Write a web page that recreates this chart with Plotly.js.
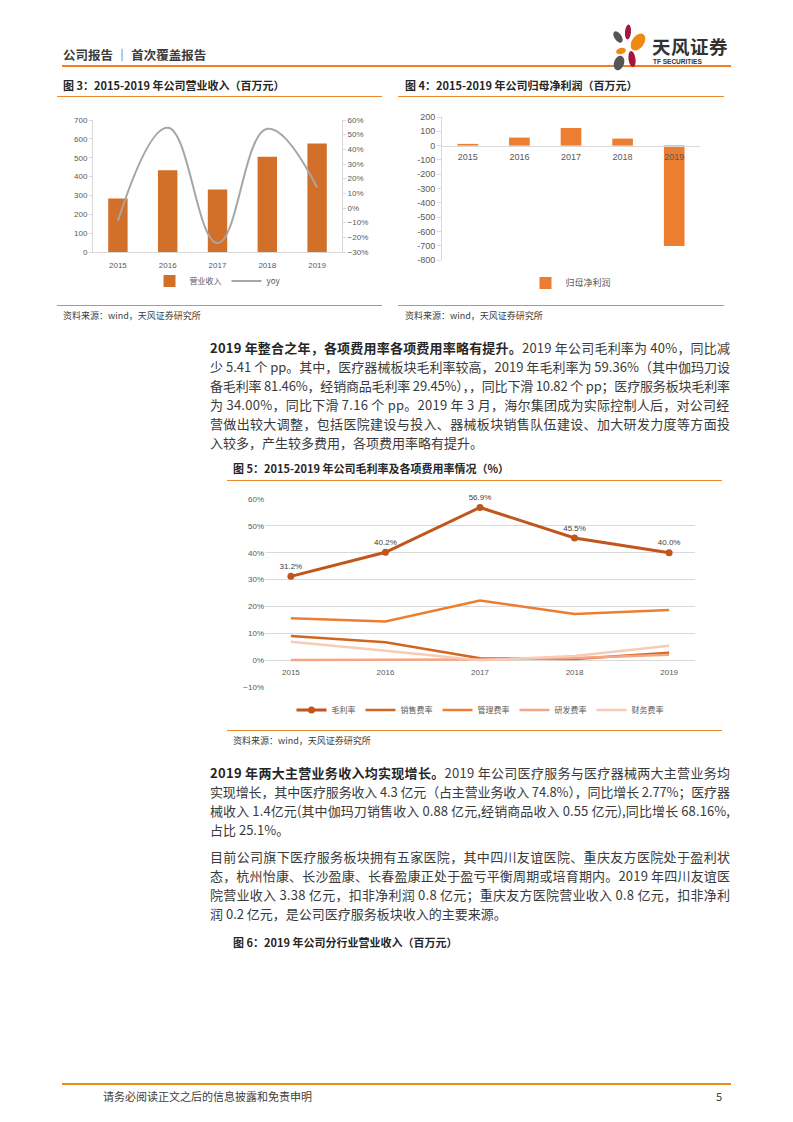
<!DOCTYPE html>
<html>
<head>
<meta charset="utf-8">
<script src="https://cdn.plot.ly/plotly-3.0.1.min.js"></script>
<style>
  html, body { margin:0; padding:0; background:#fff; }
  body { width:793px; height:1122px; position:relative; overflow:hidden;
         font-family:"Noto Sans CJK SC","Noto Sans",sans-serif; color:#404040; }
  .abs { position:absolute; }
  .hline { position:absolute; height:0; }
  .ln { position:absolute; left:210px; width:520px; font-size:13px; line-height:19px;
        white-space:nowrap; color:#3a3a3a; }
  .ln b { color:#262626; }
  .ftitle { position:absolute; font-size:11px; font-weight:bold; color:#262626; line-height:14px; white-space:nowrap; }
  .src { position:absolute; font-size:9px; color:#404040; line-height:12px; white-space:nowrap; }
</style>
</head>
<body>
<script>
// ---------- data ----------
const years = ['2015', '2016', '2017', '2018', '2019'];
const revenue = [284, 434, 331, 505, 576];          // 营业收入（百万元）
const revenueYoy = [-8.8, 54.7, -23.9, 54.0, 14.0];  // yoy (%)
const netProfit = [12, 56, 123, 49, -702];           // 归母净利润（百万元）
const grossMargin = [31.2, 40.2, 56.9, 45.5, 40.0];  // 毛利率 (%)
const salesRate = [9.0, 6.6, 0.7, 0.4, 2.7];         // 销售费率 (%)
const adminRate = [15.6, 14.4, 22.2, 17.2, 18.7];    // 管理费率 (%)
const rdRate = [0.0, 0.0, 0.2, 0.8, 2.0];            // 研发费率 (%)
const finRate = [6.8, 3.5, -0.1, 1.5, 5.3];          // 财务费率 (%)
const profitTicks = [200, 100, 0, -100, -200, -300, -400, -500, -600, -700, -800];
</script>

<!-- header -->
<div class="abs" style="left:63px;top:46px;font-size:12.5px;font-weight:bold;color:#3c3c3c;line-height:18px;">公司报告 ｜ 首次覆盖报告</div>
<div class="hline" style="left:62px;top:65px;width:669px;border-top:2px solid #EE7F22;"></div>
<svg class="abs" style="left:606px;top:20px;" width="48" height="52" viewBox="0 0 48 52">
  <ellipse cx="12" cy="17" rx="3.5" ry="6.5" fill="#555555" transform="rotate(-35 12 17)"/>
  <ellipse cx="22" cy="12" rx="3" ry="7.5" fill="#A3183A" transform="rotate(5 22 12)"/>
  <ellipse cx="32" cy="22" rx="6" ry="9.5" fill="#EE8A12" transform="rotate(35 32 22)"/>
  <ellipse cx="15" cy="31" rx="5" ry="3" fill="#EE8A12" transform="rotate(-15 15 31)"/>
  <ellipse cx="26" cy="39" rx="3.5" ry="8" fill="#A3183A" transform="rotate(-8 26 39)"/>
  <ellipse cx="13" cy="43" rx="5" ry="7.5" fill="#555555" transform="rotate(20 13 43)"/>
</svg>
<div class="abs" style="left:652px;top:35px;font-size:18.5px;font-weight:bold;color:#333;line-height:22px;letter-spacing:0.5px;">天风证券</div>
<div class="abs" style="left:653px;top:58px;font-size:6.5px;font-weight:bold;color:#333;line-height:8px;font-family:'Liberation Sans',sans-serif;">TF SECURITIES</div>

<!-- figure 3 / 4 titles -->
<div class="ftitle" style="left:63px;top:78px;">图 3：2015-2019 年公司营业收入（百万元）</div>
<div class="hline" style="left:57px;top:96px;width:325px;border-top:1.5px solid #EE8A2E;"></div>
<div class="ftitle" style="left:405px;top:78px;">图 4：2015-2019 年公司归母净利润（百万元）</div>
<div class="hline" style="left:398px;top:96px;width:326px;border-top:1.5px solid #EE8A2E;"></div>

<div id="chart1" class="abs" style="left:50px;top:100px;width:340px;height:220px;"></div>
<div id="chart2" class="abs" style="left:395px;top:100px;width:340px;height:220px;"></div>

<div class="hline" style="left:57px;top:305px;width:325px;border-top:1.5px solid #EE8A2E;"></div>
<div class="hline" style="left:398px;top:305px;width:326px;border-top:1.5px solid #EE8A2E;"></div>
<div class="src" style="left:63px;top:310px;">资料来源：wind，天风证券研究所</div>
<div class="src" style="left:405px;top:310px;">资料来源：wind，天风证券研究所</div>

<!-- paragraph 1 -->
<div class="ln fit" style="top:338px;"><span><b>2019 年整合之年，各项费用率各项费用率略有提升。</b>2019 年公司毛利率为 40%，同比减</span></div>
<div class="ln fit" style="top:357px;"><span>少 5.41 个 pp。其中，医疗器械板块毛利率较高，2019 年毛利率为 59.36%（其中伽玛刀设</span></div>
<div class="ln fit" style="top:376px;"><span>备毛利率 81.46%，经销商品毛利率 29.45%），，同比下滑 10.82 个 pp；医疗服务板块毛利率</span></div>
<div class="ln fit" style="top:395px;"><span>为 34.00%，同比下滑 7.16 个 pp。2019  年  3  月，海尔集团成为实际控制人后，对公司经</span></div>
<div class="ln fit" style="top:414px;"><span>营做出较大调整，包括医院建设与投入、器械板块销售队伍建设、加大研发力度等方面投</span></div>
<div class="ln" style="top:433px;"><span>入较多，产生较多费用，各项费用率略有提升。</span></div>

<!-- figure 5 -->
<div class="ftitle" style="left:233px;top:461px;">图 5：2015-2019 年公司毛利率及各项费用率情况（%）</div>
<div class="hline" style="left:227px;top:480px;width:495px;border-top:1.5px solid #EE8A2E;"></div>
<div id="chart3" class="abs" style="left:225px;top:485px;width:475px;height:260px;"></div>
<div class="hline" style="left:227px;top:730px;width:495px;border-top:1.5px solid #EE8A2E;"></div>
<div class="src" style="left:233px;top:735px;">资料来源：wind，天风证券研究所</div>

<!-- paragraph 2 -->
<div class="ln fit" style="top:763px;"><span><b>2019 年两大主营业务收入均实现增长。</b>2019 年公司医疗服务与医疗器械两大主营业务均</span></div>
<div class="ln fit" style="top:782px;"><span>实现增长，其中医疗服务收入 4.3 亿元（占主营业务收入 74.8%），同比增长 2.77%；医疗器</span></div>
<div class="ln fit" style="top:801px;"><span>械收入 1.4亿元(其中伽玛刀销售收入 0.88 亿元,经销商品收入 0.55 亿元),同比增长 68.16%,</span></div>
<div class="ln" style="top:820px;"><span>占比 25.1%。</span></div>

<!-- paragraph 3 -->
<div class="ln fit" style="top:847px;"><span>目前公司旗下医疗服务板块拥有五家医院，其中四川友谊医院、重庆友方医院处于盈利状</span></div>
<div class="ln fit" style="top:866px;"><span>态，杭州怡康、长沙盈康、长春盈康正处于盈亏平衡周期或培育期内。2019 年四川友谊医</span></div>
<div class="ln fit" style="top:885px;"><span>院营业收入 3.38 亿元，扣非净利润 0.8 亿元；重庆友方医院营业收入 0.8 亿元，扣非净利</span></div>
<div class="ln" style="top:904px;"><span>润 0.2 亿元，是公司医疗服务板块收入的主要来源。</span></div>

<div class="ftitle" style="left:233px;top:935px;">图 6：2019 年公司分行业营业收入（百万元）</div>

<!-- footer -->
<div class="hline" style="left:62px;top:1083px;width:669px;border-top:2px solid #E8900C;"></div>
<div class="abs" style="left:103px;top:1088px;font-size:11px;color:#404040;line-height:16px;">请务必阅读正文之后的信息披露和免责申明</div>
<div class="abs" style="left:716px;top:1088px;font-size:11px;color:#404040;line-height:16px;">5</div>

<script>
// justify each full line to exactly 520px via letter-spacing
document.querySelectorAll('.ln.fit').forEach(function (d) {
  const s = d.querySelector('span');
  const w = s.getBoundingClientRect().width;
  const n = s.textContent.length;
  const ls = (520 - w) / (n - 1);
  d.style.letterSpacing = ls + 'px';
});

const cfg = { staticPlot: true, displayModeBar: false };
const tickFont = { family: 'Liberation Sans, Noto Sans CJK SC, sans-serif', size: 8, color: '#595959' };
const legFont = { family: 'Noto Sans CJK SC, sans-serif', size: 8, color: '#595959' };
const axisGray = '#D9D9D9';

// ---------- chart 1 ----------
Plotly.newPlot('chart1', [
  { type: 'bar', x: years, y: revenue, name: '营业收入',
    marker: { color: '#D2702A' }, yaxis: 'y' },
  { type: 'scatter', mode: 'lines', x: years, y: revenueYoy, name: 'yoy', yaxis: 'y2',
    line: { color: '#A6A6A6', width: 2, shape: 'spline', smoothing: 1.2 } }
], {
  width: 340, height: 220,
  margin: { l: 43, r: 48, t: 20, b: 68 },
  paper_bgcolor: 'rgba(0,0,0,0)', plot_bgcolor: 'rgba(0,0,0,0)',
  bargap: 0.61,
  xaxis: { type: 'category', showline: true, linecolor: axisGray, linewidth: 1, ticks: '', tickfont: tickFont,
           ticklabelstandoff: 5 },
  yaxis: { range: [0, 700], dtick: 100, showgrid: false, zeroline: false, showline: true, linecolor: axisGray,
           ticks: 'outside', ticklen: 3, tickcolor: axisGray, tickfont: tickFont },
  yaxis2: { overlaying: 'y', side: 'right', range: [-30, 60], dtick: 10, ticksuffix: '%', showgrid: false, zeroline: false,
            showline: true, linecolor: axisGray, ticks: 'outside', ticklen: 3, tickcolor: axisGray, tickfont: tickFont },
  showlegend: true,
  legend: { orientation: 'h', x: 0.5, xanchor: 'center', y: -0.22, yanchor: 'middle', font: legFont, traceorder: 'normal' }
}, cfg);

// ---------- chart 2 ----------
Plotly.newPlot('chart2', [
  { type: 'bar', x: years, y: netProfit, name: '归母净利润', marker: { color: '#ED7D31' } }
], {
  width: 340, height: 220,
  margin: { l: 47, r: 35, t: 17, b: 60 },
  paper_bgcolor: 'rgba(0,0,0,0)', plot_bgcolor: 'rgba(0,0,0,0)',
  bargap: 0.6,
  xaxis: { type: 'category', anchor: 'free', position: 0.8, showline: true, linecolor: axisGray, ticks: '',
           ticklabelstandoff: 3,
           tickfont: { family: tickFont.family, size: 9, color: '#595959' } },
  yaxis: { range: [-800, 200], tickvals: profitTicks, ticktext: profitTicks.map(String), showgrid: false, zeroline: false,
           showline: true, linecolor: axisGray, ticks: 'outside', ticklen: 4, tickcolor: axisGray,
           tickfont: { family: tickFont.family, size: 9, color: '#595959' } },
  showlegend: true,
  legend: { orientation: 'h', x: 0.5, xanchor: 'center', y: -0.16, yanchor: 'middle', font: { family: legFont.family, size: 9, color: '#595959' } }
}, cfg);

// ---------- chart 3 ----------
Plotly.newPlot('chart3', [
  { type: 'scatter', mode: 'lines+markers+text', x: years, y: grossMargin, name: '毛利率',
    line: { color: '#C0561B', width: 3 }, marker: { color: '#C0561B', size: 7 },
    text: grossMargin.map(v => v.toFixed(1) + '%'), textposition: 'top center',
    textfont: { family: tickFont.family, size: 8, color: '#404040' }, cliponaxis: false },
  { type: 'scatter', mode: 'lines', x: years, y: salesRate, name: '销售费率', line: { color: '#D0661F', width: 2.5 } },
  { type: 'scatter', mode: 'lines', x: years, y: adminRate, name: '管理费率', line: { color: '#ED7D31', width: 2.5 } },
  { type: 'scatter', mode: 'lines', x: years, y: rdRate, name: '研发费率', line: { color: '#F4A582', width: 2.5 } },
  { type: 'scatter', mode: 'lines', x: years, y: finRate, name: '财务费率', line: { color: '#F8CBB8', width: 2.5 } }
], {
  width: 475, height: 260,
  margin: { l: 40, r: 5, t: 14, b: 58 },
  paper_bgcolor: 'rgba(0,0,0,0)', plot_bgcolor: 'rgba(0,0,0,0)',
  xaxis: { type: 'category', anchor: 'free', position: 10 / 70, showline: false, showgrid: false, ticks: '', tickfont: tickFont,
           ticklabelstandoff: 6 },
  yaxis: { range: [-10.05, 60.05], dtick: 10, ticksuffix: '%', showgrid: true, gridcolor: axisGray, gridwidth: 1,
           zeroline: false, showline: false, ticks: '', tickfont: tickFont },
  showlegend: true,
  legend: { orientation: 'h', x: 0.5, xanchor: 'center', y: -0.122, yanchor: 'middle', font: legFont, traceorder: 'normal' }
}, cfg);
</script>
</body>
</html>
